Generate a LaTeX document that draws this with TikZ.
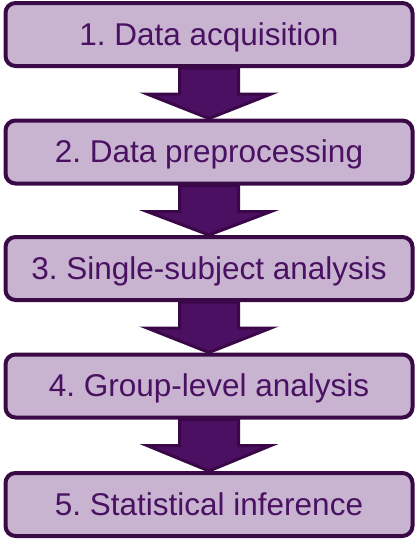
\documentclass[tikz,border=0pt]{standalone}
\usepackage{fontspec}
\setmainfont{Liberation Sans}
\usetikzlibrary{calc}
\definecolor{boxfill}{HTML}{C8B4D0}
\definecolor{boxline}{HTML}{3A0A47}
\definecolor{txt}{HTML}{4A1162}
\definecolor{arrfill}{HTML}{4C1063}
\definecolor{arrline}{HTML}{3A0848}
\frenchspacing
\begin{document}
\begin{tikzpicture}[x=1pt,y=-1pt,
  stepbox/.style={draw=boxline,fill=boxfill,line width=4pt,rounded corners=10pt,
    minimum width=407pt,minimum height=63pt,inner sep=0pt,
    text height=24pt,text depth=3pt,
    text=txt,font=\fontsize{31.5}{34}\selectfont},
  bigarrow/.style={fill=arrfill,draw=arrline,line width=3pt,line join=miter}]
\useasboundingbox (0,0) rectangle (417,541);
\def\arr#1#2{%
  \draw[bigarrow] ($(#1.south)+(-29.5,0)$) -- ($(#1.south)+(29.5,0)$) --
    ($(#1.south)+(29.5,26)$) -- ($(#1.south)+(62,26)$) -- (#2.north) --
    ($(#1.south)+(-62,26)$) -- ($(#1.south)+(-29.5,26)$) -- cycle;}
\node[stepbox] (s1) at (209,34.5) {1. Data acquisition};
\node[stepbox] (s2) at (209,152) {2. Data preprocessing};
\node[stepbox] (s3) at (209,268.5) {3. Single-subject analysis};
\node[stepbox] (s4) at (209,386) {4. Group-level analysis};
\node[stepbox] (s5) at (209,504.5) {5. Statistical inference};
\arr{s1}{s2}
\arr{s2}{s3}
\arr{s3}{s4}
\arr{s4}{s5}
\end{tikzpicture}
\end{document}
